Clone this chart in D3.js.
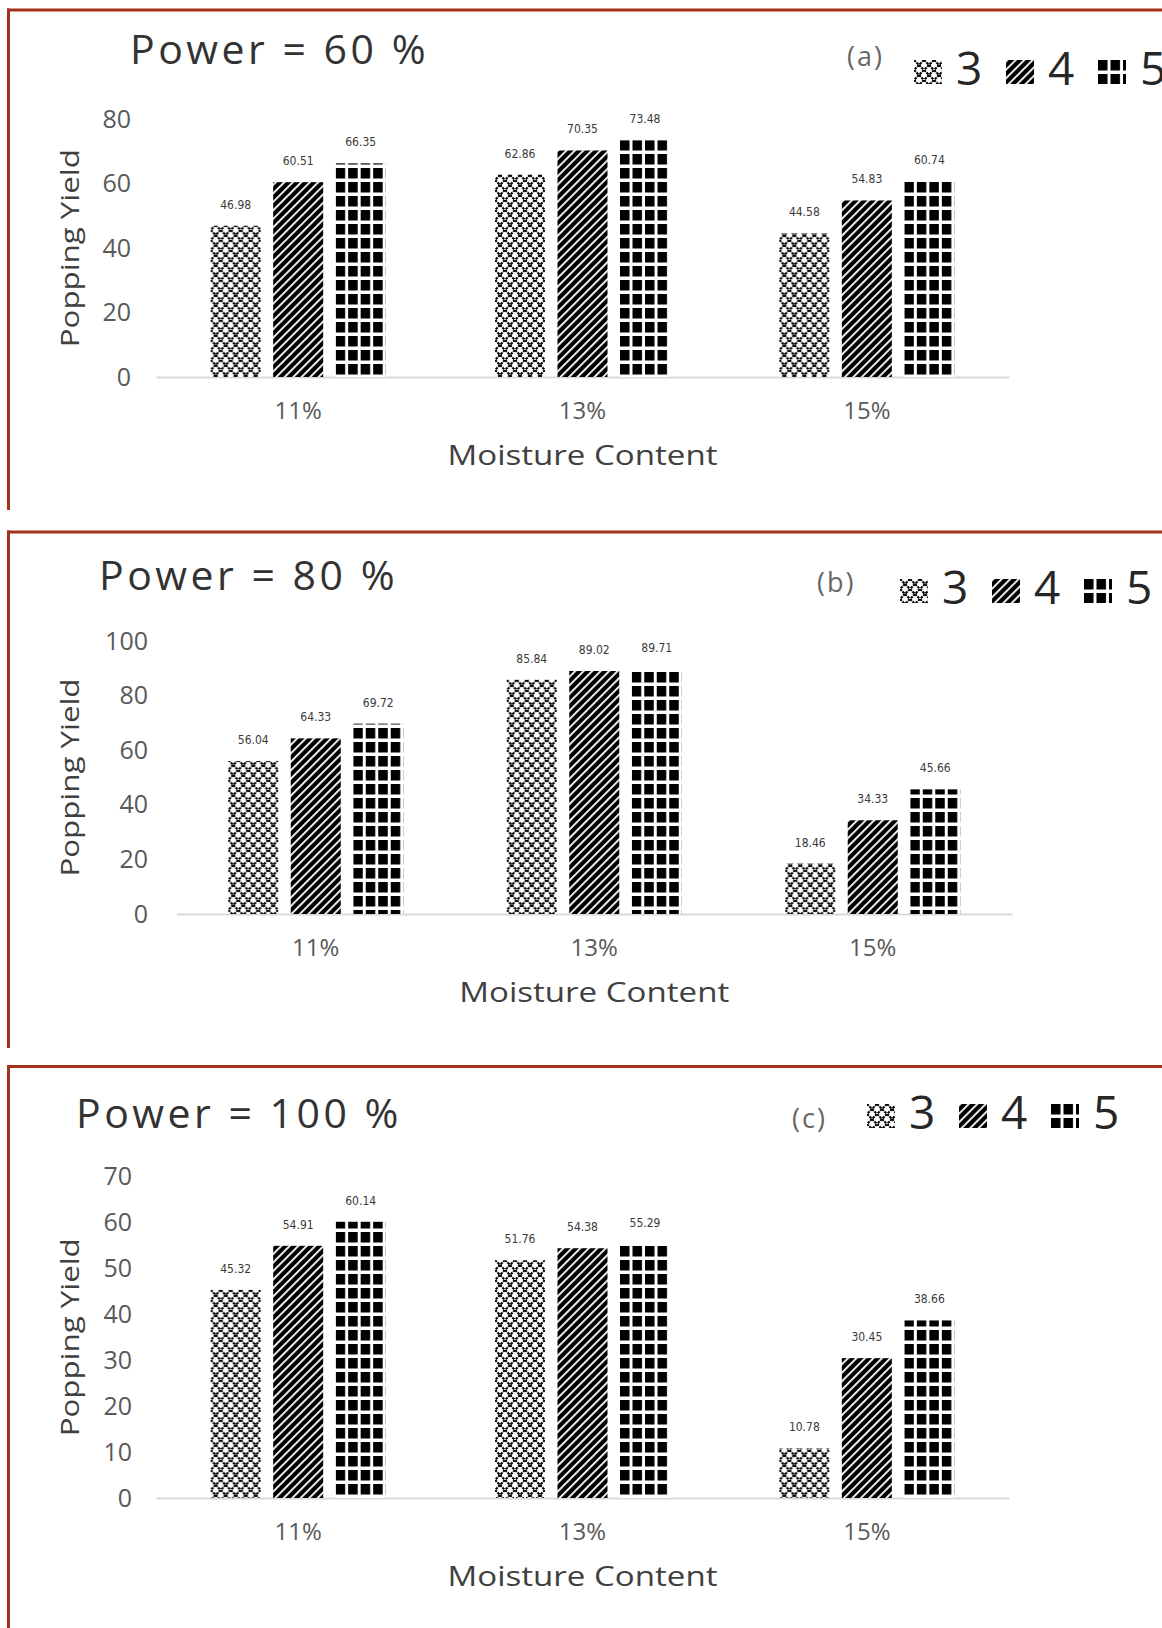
<!DOCTYPE html>
<html>
<head>
<meta charset="utf-8">
<script src="https://cdn.jsdelivr.net/npm/d3@7"></script>
<style>
  body { margin: 0; background: #fff; }
  svg { display: block; font-family: "Open Sans", "DejaVu Sans", sans-serif; }
</style>
</head>
<body>
<div id="container"></div>
<script>
// Data: rows = moisture content, columns = series 3, 4, 5
const categories = ["11%", "13%", "15%"];
const seriesNames = ["3", "4", "5"];
const yield60 = [[46.98, 60.51, 66.35], [62.86, 70.35, 73.48], [44.58, 54.83, 60.74]];
const yield80 = [[56.04, 64.33, 69.72], [85.84, 89.02, 89.71], [18.46, 34.33, 45.66]];
const yield100 = [[45.32, 54.91, 60.14], [51.76, 54.38, 55.29], [10.78, 30.45, 38.66]];
const ticks60 = [0, 20, 40, 60, 80];
const ticks80 = [0, 20, 40, 60, 80, 100];
const ticks100 = [0, 10, 20, 30, 40, 50, 60, 70];

const width = 1162, height = 1628;
const red = "#a3321a";

const svg = d3.select("#container")
  .append("svg")
  .attr("width", width)
  .attr("height", height);

// Fill patterns
const defs = svg.append("defs");

const diamond = defs.append("pattern")
  .attr("id", "pat3")
  .attr("patternUnits", "userSpaceOnUse")
  .attr("width", 10).attr("height", 10);
diamond.append("rect").attr("width", 10).attr("height", 10).attr("fill", "#fff");
diamond.append("path")
  .attr("d", "M0,0L10,10M10,0L0,10")
  .attr("stroke", "#000").attr("stroke-width", 2.1)
  .attr("stroke-dasharray", "2.6,0.9");

const stripes = defs.append("pattern")
  .attr("id", "pat4")
  .attr("patternUnits", "userSpaceOnUse")
  .attr("width", 6).attr("height", 6)
  .attr("patternTransform", "rotate(45)");
stripes.append("rect").attr("width", 6).attr("height", 6).attr("fill", "#000");
stripes.append("rect").attr("width", 1.8).attr("height", 6).attr("fill", "#fff");

const grid = defs.append("pattern")
  .attr("id", "pat5")
  .attr("patternUnits", "userSpaceOnUse")
  .attr("width", 12.5).attr("height", 14);
grid.append("rect").attr("width", 12.5).attr("height", 14).attr("fill", "#fff");
grid.append("rect").attr("width", 9.5).attr("height", 10.5).attr("fill", "#000");

const fills = d3.scaleOrdinal().domain(seriesNames).range(["url(#pat3)", "url(#pat4)", "url(#pat5)"]);

const panels = [
  { values: yield60, ticks: ticks60, title: "Power = 60 %", tag: "(a)",
    top: 10, leftEnd: 510, xRange: [156, 1009], y0: 377, yTop: 119.4, tickRight: 131,
    titleX: 130, titleY: 64, tagX: 847, tagY: 66, legendX: 914, legendY: 60 },
  { values: yield80, ticks: ticks80, title: "Power = 80 %", tag: "(b)",
    top: 532, leftEnd: 1048, xRange: [176.5, 1012], y0: 914, yTop: 641, tickRight: 148,
    titleX: 99, titleY: 590, tagX: 817, tagY: 592, legendX: 900, legendY: 579 },
  { values: yield100, ticks: ticks100, title: "Power = 100 %", tag: "(c)",
    top: 1066.5, leftEnd: 1628, xRange: [156, 1009], y0: 1498, yTop: 1176.5, tickRight: 132,
    titleX: 76, titleY: 1128, tagX: 792, tagY: 1128, legendX: 867, legendY: 1104 }
];

panels.forEach(p => {
  const g = svg.append("g");

  // frame lines (top and left)
  g.append("line")
    .attr("x1", 7).attr("x2", width)
    .attr("y1", p.top).attr("y2", p.top)
    .attr("stroke", red).attr("stroke-width", 3);
  g.append("line")
    .attr("x1", 8.5).attr("x2", 8.5)
    .attr("y1", p.top - 1.5).attr("y2", p.leftEnd)
    .attr("stroke", red).attr("stroke-width", 3);

  const x0 = d3.scaleBand().domain(categories).range(p.xRange);
  const groupWidth = 175;
  const x1 = d3.scaleBand().domain(seriesNames).range([0, groupWidth]).paddingInner(0.2);
  const y = d3.scaleLinear()
    .domain([0, d3.max(p.ticks)])
    .range([p.y0, p.yTop]);

  // y axis labels only
  const yAxis = g.append("g")
    .attr("transform", `translate(${p.tickRight},0)`)
    .call(d3.axisLeft(y).tickValues(p.ticks).tickSize(0).tickPadding(0));
  yAxis.select(".domain").remove();
  yAxis.selectAll("text")
    .attr("font-family", "Open Sans, DejaVu Sans, sans-serif")
    .attr("font-size", 25)
    .attr("fill", "#595959");

  // x axis (baseline + category labels)
  const xAxis = g.append("g")
    .attr("transform", `translate(0,${p.y0})`)
    .call(d3.axisBottom(x0).tickSize(0).tickSizeOuter(0));
  xAxis.select(".domain").attr("stroke", "#d9d9d9").attr("stroke-width", 2);
  xAxis.selectAll("text")
    .attr("y", 34).attr("dy", "0.35em")
    .attr("font-family", "Open Sans, DejaVu Sans, sans-serif")
    .attr("font-size", 24)
    .attr("fill", "#595959");

  // bars
  const groups = g.selectAll(".cat")
    .data(p.values)
    .join("g")
    .attr("class", "cat")
    .attr("transform", (d, i) => `translate(${x0(categories[i]) + (x0.bandwidth() - groupWidth) / 2},0)`);

  const cells = groups.selectAll("g")
    .data(d => d.map((v, j) => ({ s: seriesNames[j], v })))
    .join("g");

  cells.append("rect")
    .attr("x", d => x1(d.s))
    .attr("width", x1.bandwidth())
    .attr("y", d => y(d.v))
    .attr("height", d => y(0) - y(d.v))
    .attr("fill", d => fills(d.s));

  cells.append("text")
    .attr("x", d => x1(d.s) + x1.bandwidth() / 2)
    .attr("y", d => y(d.v) - 17)
    .attr("text-anchor", "middle")
    .attr("font-family", "DejaVu Sans Condensed, DejaVu Sans, sans-serif")
    .attr("font-stretch", "condensed")
    .attr("font-size", 12)
    .attr("fill", "#3a3a3a")
    .text(d => d.v.toFixed(2));

  // axis titles
  const midX = (p.xRange[0] + p.xRange[1]) / 2;
  g.append("text")
    .attr("x", midX).attr("y", p.y0 + 79)
    .attr("dy", "0.35em")
    .attr("text-anchor", "middle")
    .attr("font-size", 27)
    .attr("textLength", 270)
    .attr("lengthAdjust", "spacingAndGlyphs")
    .attr("fill", "#404040")
    .text("Moisture Content");

  g.append("text")
    .attr("transform", `translate(70,${(p.y0 + p.yTop) / 2}) rotate(-90)`)
    .attr("dy", "0.35em")
    .attr("text-anchor", "middle")
    .attr("font-size", 25)
    .attr("textLength", 198)
    .attr("lengthAdjust", "spacingAndGlyphs")
    .attr("fill", "#404040")
    .text("Popping Yield");

  // panel title and tag
  g.append("text")
    .attr("x", p.titleX).attr("y", p.titleY)
    .attr("font-size", 41)
    .attr("letter-spacing", 3.5)
    .attr("fill", "#333")
    .text(p.title);

  g.append("text")
    .attr("x", p.tagX).attr("y", p.tagY)
    .attr("font-size", 27)
    .attr("letter-spacing", 2)
    .attr("fill", "#666")
    .text(p.tag);

  // legend
  const legend = g.selectAll(".leg")
    .data(seriesNames)
    .join("g")
    .attr("class", "leg")
    .attr("transform", (d, i) => `translate(${p.legendX + i * 92},${p.legendY})`);
  legend.append("rect")
    .attr("width", 28).attr("height", 24)
    .attr("fill", d => fills(d));
  legend.append("text")
    .attr("x", 42).attr("y", 25)
    .attr("font-size", 46)
    .attr("fill", "#262626")
    .text(d => d);
});
</script>
</body>
</html>
